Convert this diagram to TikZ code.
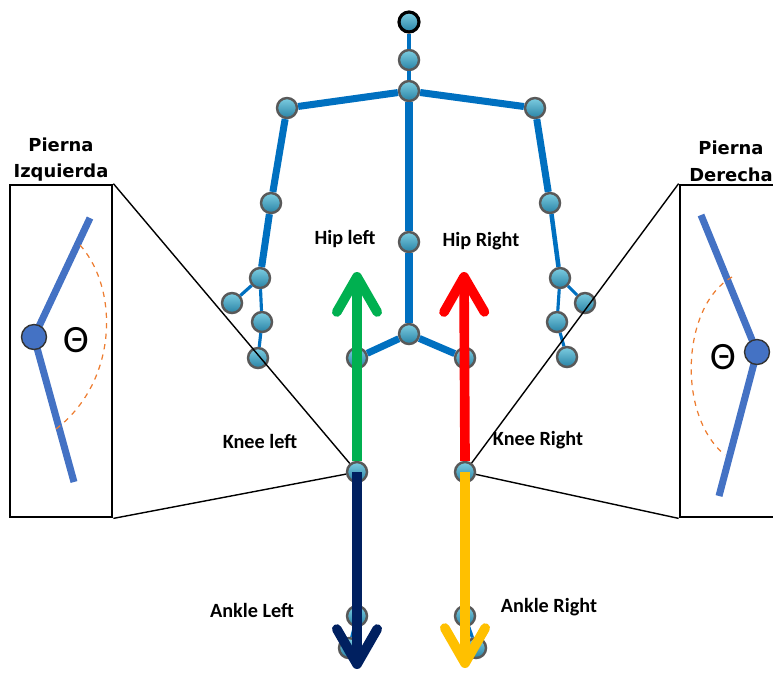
\documentclass[tikz,border=0pt]{standalone}
\usepackage{fontspec}
\setmainfont{Carlito}
\newfontfamily\headfont{DejaVu Sans}
\usetikzlibrary{arrows.meta,positioning}

\definecolor{boneblue}{RGB}{0,112,192}
\definecolor{jointhi}{RGB}{125,205,225}
\definecolor{jointlo}{RGB}{40,130,165}
\definecolor{legblue}{RGB}{68,114,196}
\definecolor{arcorange}{RGB}{237,125,49}
\definecolor{hipgreen}{RGB}{0,176,80}
\definecolor{hipred}{RGB}{255,0,0}
\definecolor{anklenavy}{RGB}{0,32,96}
\definecolor{ankleyellow}{RGB}{255,192,0}

\begin{document}
\begin{tikzpicture}[x=0.02cm, y=-0.02cm,
    joint/.style={circle, minimum size=0.4cm, inner sep=0pt, draw=black!65,
        line width=1.4pt, top color=jointhi, bottom color=jointlo},
    headjoint/.style={joint, draw=black, line width=1.8pt},
    bone/.style={boneblue, line width=4pt},
    thinbone/.style={boneblue, line width=1.8pt},
    legarrow/.style={line width=5.5pt, -{Straight Barb[length=20pt,width=23pt,round]}},
    partname/.style={font=\bfseries\fontsize{11.5}{12}\selectfont},
    inset/.style={draw, line width=1.6pt, minimum width=2.04cm, minimum height=6.64cm},
    insettitle/.style={font=\headfont\bfseries\fontsize{10.2}{15}\selectfont, align=center, inner sep=1pt},
    insetleg/.style={legblue, line width=4pt},
    kneedot/.style={circle, minimum size=0.5cm, inner sep=0pt, fill=legblue, draw=black!80, line width=0.8pt},
    thetamark/.style={font=\fontsize{22}{22}\selectfont},
    anglearc/.style={arcorange, dashed, line width=0.7pt},
    zoomline/.style={line width=0.8pt}
]
\useasboundingbox (0,0) rectangle (773,674);

% skeleton
\node[headjoint] (head) at (409,22) {};
\node[joint] (neck) at (409,60) {};
\node[joint] (spineS) at (409,91) {};
\node[joint] (spineM) at (409,242) {};
\node[joint] (spineB) at (409,334) {};
\node[joint] (shoulderL) at (287,108) {};
\node[joint] (elbowL) at (271,203) {};
\node[joint] (wristL) at (260,278) {};
\node[joint] (thumbL) at (232,303) {};
\node[joint] (handL) at (262,322) {};
\node[joint] (tipL) at (258,358) {};
\node[joint] (shoulderR) at (535,108) {};
\node[joint] (elbowR) at (550,203) {};
\node[joint] (wristR) at (560,278) {};
\node[joint] (thumbR) at (585,303) {};
\node[joint] (handR) at (557,322) {};
\node[joint] (tipR) at (567,357) {};
\node[joint] (hipL) at (357,358) {};
\node[joint] (hipR) at (465,358) {};
\node[joint] (kneeL) at (357,472) {};
\node[joint] (kneeR) at (465,472) {};
\node[joint] (ankleL) at (357,616) {};
\node[joint] (ankleR) at (465,616) {};
\node[joint] (footL) at (349,648) {};
\node[joint] (footR) at (476,648) {};

\draw[thinbone] (head) -- (neck) -- (spineS);
\draw[bone] (spineS) -- (spineM) -- (spineB);
\draw[bone] (shoulderL) -- (spineS) -- (shoulderR);
\draw[bone] (shoulderL) -- (elbowL) -- (wristL);
\draw[bone] (shoulderR) -- (elbowR);
\draw[boneblue, line width=2.6pt] (elbowR) -- (wristR);
\draw[thinbone] (thumbL) -- (wristL) -- (handL) -- (tipL);
\draw[thinbone] (thumbR) -- (wristR) -- (handR) -- (tipR);
\draw[bone] (hipL) -- (spineB) -- (hipR);
\draw[thinbone] (hipL) -- (kneeL) -- (ankleL) -- (footL);
\draw[thinbone] (hipR) -- (kneeR) -- (ankleR) -- (footR);

% leg vectors
\coordinate (hipLtip) at (357,272);
\coordinate (hipRtip) at (464,272);
\coordinate (ankleLtip) at (357,669);
\coordinate (ankleRtip) at (465,668);
\draw[legarrow, hipgreen] (kneeL.north) -- (hipLtip);
\draw[legarrow, hipred] (kneeR.north) -- (hipRtip);
\draw[legarrow, anklenavy] (kneeL.center) -- (ankleLtip);
\draw[legarrow, ankleyellow] (kneeR.center) -- (ankleRtip);

\node[partname] (hipLlabel) at (345,239) {Hip left};
\node[partname] (hipRlabel) at (481,241) {Hip Right};
\node[partname] (kneeLlabel) at (260,441) {Knee left};
\node[partname] (kneeRlabel) at (538,440) {Knee Right};
\node[partname] (ankleLlabel) at (252,610) {Ankle Left};
\node[partname] (ankleRlabel) at (549,607) {Ankle Right};

% left leg close-up
\node[inset] (boxL) at (61,351) {};
\node[insettitle, above=0pt of boxL] (titleL) {Pierna\\Izquierda};
\coordinate (thighL) at (90,218);
\coordinate (kneeLpt) at (34,337);
\coordinate (shinL) at (74,482);
\draw[insetleg] (thighL) -- (kneeLpt) -- (shinL);
\node[kneedot] (kneeLdot) at (kneeLpt) {};
\node[thetamark] (thetaL) at (76,340) {Θ};
\draw[anglearc] (80,245) .. controls (120,290) and (118,385) .. (52,432);

% right leg close-up
\node[inset] (boxR) at (731,351) {};
\node[insettitle, above=0pt of boxR] (titleR) {Pierna\\Derecha};
\coordinate (thighR) at (701,215);
\coordinate (kneeRpt) at (757,352);
\coordinate (shinR) at (719,496);
\draw[insetleg] (thighR) -- (kneeRpt) -- (shinR);
\node[kneedot] (kneeRdot) at (kneeRpt) {};
\node[thetamark] (thetaR) at (723,357) {Θ};
\draw[anglearc] (732,277) .. controls (682,305) and (676,415) .. (725,455);

\draw[zoomline] (boxL.north east) -- (kneeL);
\draw[zoomline] (boxL.south east) -- (kneeL);
\draw[zoomline] (boxR.north west) -- (kneeR);
\draw[zoomline] (boxR.south west) -- (kneeR);
\end{tikzpicture}
\end{document}
